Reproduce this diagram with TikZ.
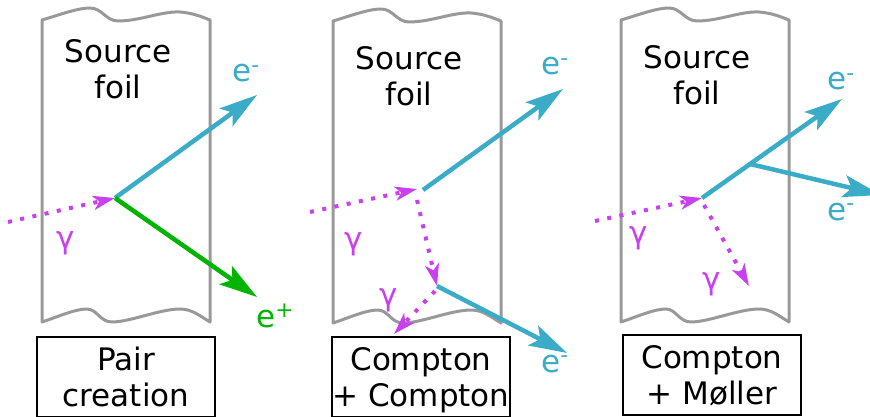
\documentclass[tikz,border=0pt]{standalone}
\usepackage{fontspec}
\setmainfont{DejaVu Sans}
\usetikzlibrary{arrows.meta}
\definecolor{foilgrey}{HTML}{999999}
\definecolor{elblue}{HTML}{3AACC8}
\definecolor{posgreen}{HTML}{00B400}
\definecolor{gammavio}{HTML}{C840F0}
\tikzset{
  foil/.style={draw=foilgrey,line width=3pt,line join=round},
  caption/.style={draw,line width=1.5pt,minimum width=178pt,minimum height=80pt,
    align=center,inner sep=0pt,text depth=0pt},
  elec/.style={draw=elblue,line width=4.5pt,-{Stealth[length=38pt,width=22pt,inset=8pt]}},
  posi/.style={elec,draw=posgreen},
  phot/.style={draw=gammavio,line width=4pt,dash pattern=on 4pt off 8.5pt,
    -{Stealth[length=22pt,width=14pt,inset=6pt]}},
  glab/.style={text=gammavio,anchor=base west,inner sep=0pt},
  elab/.style={text=elblue,anchor=base west,inner sep=0pt}
}
\begin{document}
\begin{tikzpicture}[x=1pt,y=-1pt,font=\fontsize{31}{36}\selectfont]
  \useasboundingbox (0,0) rectangle (870,417);
  % source foils
  \foreach \o/\dy/\ty/\n in {0/0/69/1, 291/1/75/2, 579/0/75/3} {
    \begin{scope}[shift={(\o,\dy)}]
      \draw[foil] (42,322) -- (42,20)
        .. controls (62,14) and (78,8) .. (90,8)
        .. controls (102,8) and (106,21) .. (118,21)
        .. controls (140,21) and (162,11) .. (180,12)
        .. controls (192,13) and (200,16) .. (210,20) -- (210,322)
        .. controls (200,316) and (192,309) .. (180,309)
        .. controls (160,309) and (130,322) .. (112,322)
        .. controls (100,322) and (97,309) .. (87,309)
        .. controls (75,309) and (60,316) .. (42,322) -- cycle;
      \node[align=center,inner sep=0pt,text depth=0pt] (src\n) at (118,\ty) {Source\\foil};
    \end{scope}
  }
  % captions
  \node[caption] (pair) at (126,377) {Pair\\creation};
  \node[caption] (cc) at (421,377) {Compton\\+ Compton};
  \node[caption] (cm) at (712,375) {Compton\\+ Møller};
  % pair creation
  \coordinate (g1a) at (8,222);
  \coordinate (v1) at (115,198);
  \coordinate (e1) at (257,95);
  \coordinate (p1) at (257,297);
  \draw[phot] (g1a) -- (v1);
  \draw[elec] (v1) -- (e1);
  \draw[posi] (v1) -- (p1);
  \node[glab] (gl1) at (56,248) {γ};
  \node[elab] (el1) at (232,82) {e\textsuperscript{-}};
  \node[glab,text=posgreen] (pl1) at (256,327) {e\textsuperscript{+}};
  % compton + compton
  \coordinate (g2a) at (310,212);
  \coordinate (g2b) at (417,189);
  \coordinate (v2) at (423,190);
  \coordinate (e2) at (563,89);
  \coordinate (g2c) at (417,200);
  \coordinate (w2) at (437,286);
  \coordinate (e2b) at (567,353);
  \coordinate (g2d) at (435,291);
  \coordinate (g2e) at (394,334);
  \draw[phot] (g2a) -- (g2b);
  \draw[elec] (v2) -- (e2);
  \draw[phot] (g2c) -- (w2);
  \draw[elec] (w2) -- (e2b);
  \draw[phot] (g2d) -- (g2e);
  \node[glab] (gl2) at (344,249) {γ};
  \node[glab] (gl2b) at (379,305) {γ};
  \node[elab] (el2) at (541,75) {e\textsuperscript{-}};
  \node[elab] (el2b) at (541,372) {e\textsuperscript{-}};
  % compton + moller
  \coordinate (g3a) at (595,221);
  \coordinate (v3) at (702,198);
  \coordinate (e3) at (842,99);
  \coordinate (m3) at (750,164);
  \coordinate (e3b) at (881,195);
  \coordinate (g3b) at (704,205);
  \coordinate (g3c) at (749,286);
  \draw[phot] (g3a) -- (v3);
  \draw[elec] (v3) -- (e3);
  \draw[elec] (m3) -- (e3b);
  \draw[phot] (g3b) -- (g3c);
  \node[glab] (gl3) at (629,243) {γ};
  \node[glab] (gl3b) at (702,289) {γ};
  \node[elab] (el3) at (827,90) {e\textsuperscript{-}};
  \node[elab] (el3b) at (827,220) {e\textsuperscript{-}};
\end{tikzpicture}
\end{document}
